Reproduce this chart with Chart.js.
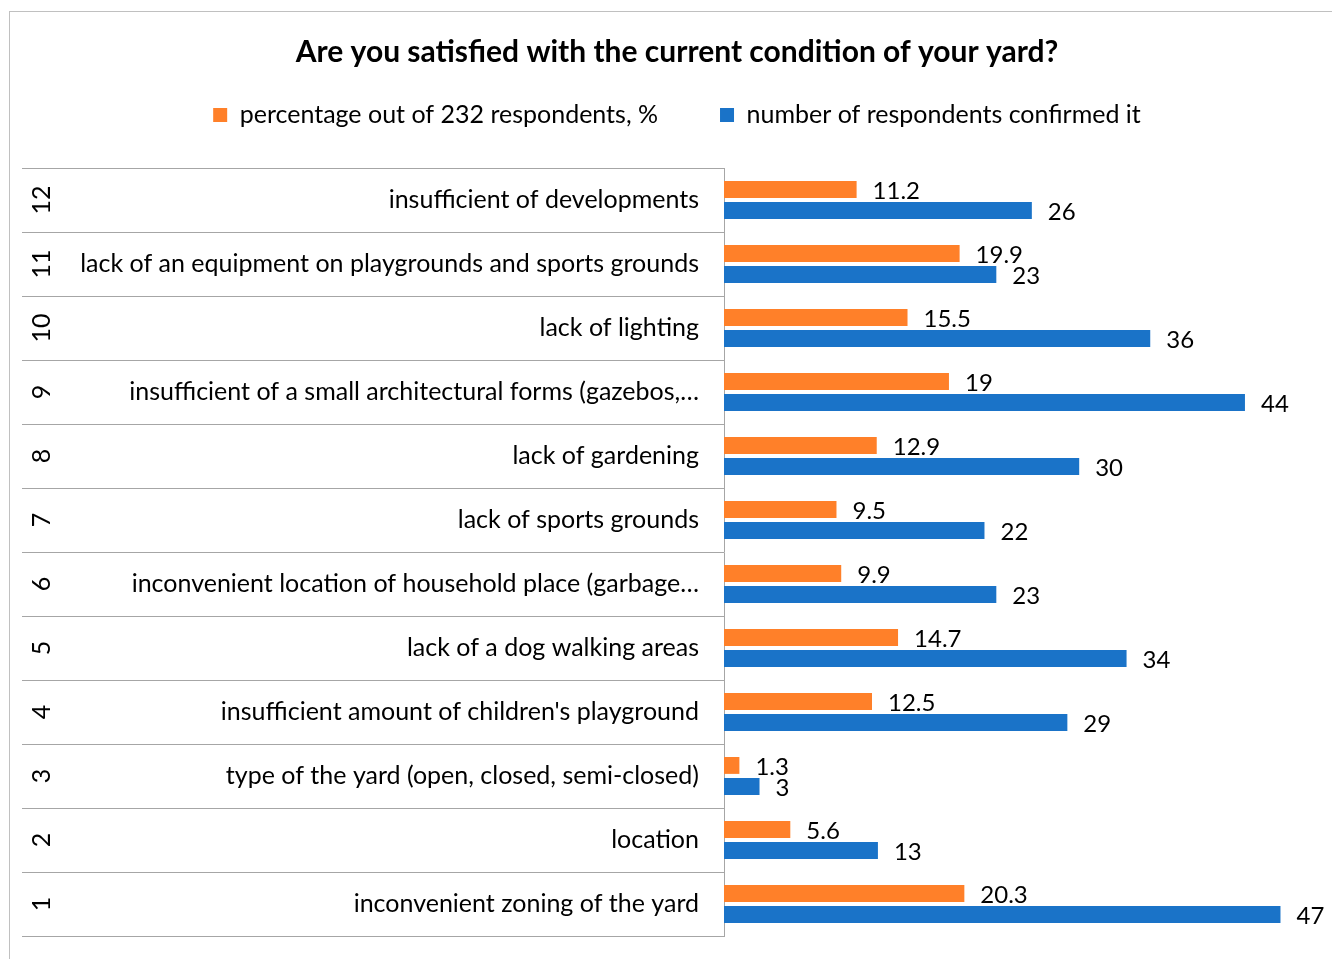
<!DOCTYPE html>
<html>
<head>
<meta charset="utf-8">
<script src="https://cdn.jsdelivr.net/npm/chart.js@4.4.0/dist/chart.umd.min.js"></script>
<style>
    html, body { margin: 0; padding: 0; background: #fff; overflow: hidden; }
    #frame { position: absolute; left: 9px; top: 11px; width: 1400px; height: 1000px; border: 1px solid #c0c0c0; }
    #yardChart { position: absolute; left: 0; top: 0; }
</style>
</head>
<body>
<div id="frame"></div>
<canvas id="yardChart" width="1332" height="959"></canvas>
<script>
console.log("yard chart initializing.");

// rows are listed top to bottom, as in the picture
const rowNumbers = ['12', '11', '10', '9', '8', '7', '6', '5', '4', '3', '2', '1'];

const categories = [
    'insufficient of developments',
    'lack of an equipment on playgrounds and sports grounds',
    'lack of lighting',
    'insufficient of a small architectural forms (gazebos,…',
    'lack of gardening',
    'lack of sports grounds',
    'inconvenient location of household place (garbage…',
    'lack of a dog walking areas',
    "insufficient amount of children's playground",
    'type of the yard (open, closed, semi-closed)',
    'location',
    'inconvenient zoning of the yard'
];

const percentValues = [11.2, 19.9, 15.5, 19, 12.9, 9.5, 9.9, 14.7, 12.5, 1.3, 5.6, 20.3];

const respondentValues = [26, 23, 36, 44, 30, 22, 23, 34, 29, 3, 13, 47];

const seriesNames = ['percentage out of 232 respondents, %', 'number of respondents confirmed it'];

const fontFamily = 'Lato, "Open Sans", sans-serif';
const lineColor = '#a6a6a6';


// table lines and the rotated row numbers on the left
const rowTable = {
    id: 'rowTable',
    afterDraw(chart) {
        const ctx = chart.ctx;
        const y = chart.scales.y;
        const half = (y.getPixelForValue(1) - y.getPixelForValue(0)) / 2;
        const left = 22;

        ctx.save();
        ctx.strokeStyle = lineColor;
        ctx.lineWidth = 1;
        for (let i = 0; i <= categories.length; i++) {
            const py = Math.round(y.getPixelForValue(i) - half) + 0.5;
            ctx.beginPath();
            ctx.moveTo(left, py);
            ctx.lineTo(y.right, py);
            ctx.stroke();
        }

        ctx.fillStyle = '#000';
        ctx.font = '25px ' + fontFamily;
        ctx.textAlign = 'center';
        ctx.textBaseline = 'middle';
        rowNumbers.forEach((num, i) => {
            ctx.save();
            ctx.translate(42, y.getPixelForValue(i));
            ctx.rotate(-Math.PI / 2);
            ctx.fillText(num, 0, 0);
            ctx.restore();
        });
        ctx.restore();
    }
};

// value labels at the end of each bar
const valueLabels = {
    id: 'valueLabels',
    afterDatasetsDraw(chart) {
        const ctx = chart.ctx;
        ctx.save();
        ctx.fillStyle = '#000';
        ctx.font = '24px ' + fontFamily;
        ctx.textAlign = 'left';
        ctx.textBaseline = 'middle';
        chart.data.datasets.forEach((ds, d) => {
            const meta = chart.getDatasetMeta(d);
            meta.data.forEach((bar, i) => {
                ctx.fillText(String(ds.data[i]), bar.x + 16, bar.y + 1.5);
            });
        });
        ctx.restore();
    }
};


const ctx = document.getElementById('yardChart').getContext('2d');

const yardChart = new Chart(ctx, {
    type: 'bar',
    data: {
        labels: categories,
        datasets: [
            {
                label: seriesNames[0],
                data: percentValues,
                backgroundColor: '#ff8029',
                barPercentage: 0.8,
                categoryPercentage: 0.66
            },
            {
                label: seriesNames[1],
                data: respondentValues,
                backgroundColor: '#1a73c8',
                barPercentage: 0.8,
                categoryPercentage: 0.66
            }
        ]
    },
    options: {
        responsive: false,
        animation: false,
        indexAxis: 'y',
        layout: {
            padding: { left: 38, right: 16, top: 0, bottom: 23 }
        },
        scales: {
            x: {
                display: false,
                min: 0,
                max: 50
            },
            y: {
                grid: { display: false, tickLength: 25 },
                border: { display: true, color: lineColor, width: 1 },
                ticks: {
                    color: '#000',
                    padding: 0,
                    font: { family: fontFamily, size: 25 }
                },
                afterFit(scale) {
                    scale.width = 686;
                }
            }
        },
        plugins: {
            tooltip: { enabled: false },
            title: {
                display: true,
                text: 'Are you satisfied with the current condition of your yard?',
                color: '#000',
                font: { family: fontFamily, size: 30, weight: 'bold' },
                padding: { top: 34, bottom: -29.5 }
            },
            legend: {
                display: true,
                labels: {
                    color: '#000',
                    boxWidth: 14,
                    boxHeight: 14,
                    padding: 62,
                    font: { family: fontFamily, size: 25 }
                }
            }
        }
    },
    plugins: [rowTable, valueLabels, {
        id: 'legendSpace',
        beforeInit(chart) {
            const fitLegend = chart.legend.fit;
            chart.legend.fit = function () {
                fitLegend.bind(chart.legend)();
                this.height += 30.5;
            };
        }
    }]
});

console.log("yard chart loaded.");
</script>
</body>
</html>
